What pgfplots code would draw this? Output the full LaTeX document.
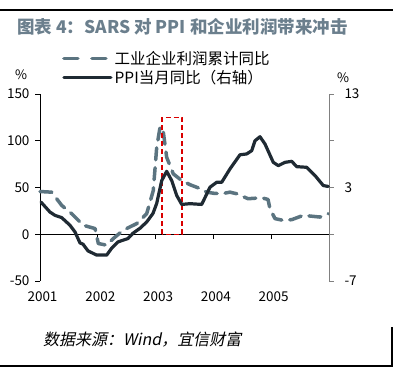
\documentclass[border=0pt]{standalone}
\usepackage{fontspec}
\setmainfont{Noto Sans CJK SC}
\newfontfamily\srcfont[FakeSlant=0.2]{Noto Sans CJK SC}
\usepackage{pgfplots}
\pgfplotsset{compat=1.18}
\definecolor{ttl}{HTML}{6B7F8D}
\definecolor{prof}{HTML}{5B7480}
\definecolor{ppi}{HTML}{1F2A33}
\definecolor{raxis}{HTML}{808080}
\begin{document}
\begin{tikzpicture}[x=1bp,y=1bp]
\useasboundingbox (0,0) rectangle (399,375);
\draw[line width=1.1bp,black] (0,365) -- (393,365);
\node[anchor=west,inner sep=0,text=ttl,font=\fontsize{17.5bp}{20bp}\selectfont\bfseries] at (17,348.5) {图表 4：SARS 对 PPI 和企业利润带来冲击};
\node[inner sep=0,font=\fontsize{13bp}{15bp}\selectfont] at (21,300) {\%};
\node[inner sep=0,font=\fontsize{13bp}{15bp}\selectfont] at (343,297) {\%};
\draw[line width=1.1bp,black] (0,9) -- (392,9) -- (392,48);
\node[anchor=west,inner sep=0,font=\fontsize{16bp}{18bp}\srcfont] at (43,35) {数据来源：Wind，宜信财富};
\begin{axis}[
  at={(40bp,94bp)}, anchor=south west,
  scale only axis, width=289bp, height=187bp,
  xmin=2001, xmax=2006, ymin=-50, ymax=150,
  axis y line*=left, axis x line*=middle,
  hide obscured x ticks=false, hide obscured y ticks=false,
  tick align=outside,
  major tick length=5bp,
  xtick={2001,2002,2003,2004,2005},
  xticklabels={2001,2002,2003,2004,2005},
  xticklabel style={anchor=north, yshift=-49bp, xshift=2.5bp},
  ytick={-50,0,50,100,150},
  yticklabels={-50,0,50,100,150},
  yticklabel style={xshift=-2bp},
  tick label style={font=\fontsize{13.5bp}{15bp}\selectfont},
  axis line style={line width=0.8bp,black},
  tick style={line width=0.8bp,black},
  clip=false,
]
\addplot[prof, line width=3.5bp, dash pattern=on 12bp off 8bp, line cap=round, line join=round] coordinates {
(2001.0,45.7) (2001.202,45.0) (2001.375,30.9) (2001.548,22.0) (2001.749,9.6) (2001.952,6.1)
(2002.009,-9.9) (2002.154,-11.7) (2002.268,-4.6) (2002.441,4.3) (2002.673,11.4) (2002.846,22.0)
(2002.960,46.8) (2003.019,92.9) (2003.076,114.1) (2003.123,114.1) (2003.192,82.2) (2003.306,64.6)
(2003.452,57.4) (2003.595,53) (2003.768,48.9) (2003.884,45.0) (2004.03,43.6) (2004.166,43.6)
(2004.287,45.0) (2004.403,43.3) (2004.599,38.0) (2004.836,39.0) (2004.945,37.2) (2004.979,27.3)
(2005.066,16.7) (2005.204,14.9) (2005.355,15.6) (2005.555,20.2) (2005.844,18.4) (2005.988,22.0)
};
\addplot[red!85!black, line width=1.1bp, dash pattern=on 5bp off 3bp] coordinates {
(2003.11,0) (2003.11,124.5) (2003.457,124.5) (2003.457,0) (2003.11,0)
};
\end{axis}
\begin{axis}[
  at={(40bp,94bp)}, anchor=south west,
  scale only axis, width=289bp, height=187bp,
  xmin=2001, xmax=2006, ymin=-7, ymax=13,
  axis y line*=right, axis x line=none,
  tick align=outside,
  major tick length=5bp,
  ytick={-7,-2,3,8,13},
  yticklabels={-7,,3,,13},
  yticklabel style={font=\fontsize{13.5bp}{15bp}\selectfont, xshift=7bp},
  y axis line style={line width=0.8bp,raxis},
  ytick style={line width=0.8bp,raxis},
  clip=false,
  legend style={at={(0.076,1.24)}, anchor=north west, draw=none, fill=none,
    font=\fontsize{15.5bp}{17bp}\selectfont, row sep=0bp, inner sep=0bp},
  legend cell align=left,
  legend image code/.code={\draw[#1] (0bp,0bp) -- (47bp,0bp);},
]
\addlegendimage{prof, line width=3.5bp, dash pattern=on 14bp off 14bp, line cap=round}
\addlegendentry{工业企业利润累计同比}
\addplot[ppi, line width=3.2bp, line join=round, line cap=round] coordinates {
(2001.017,1.44) (2001.173,0.37) (2001.26,0.02) (2001.375,-0.22) (2001.519,-1.04) (2001.606,-1.76)
(2001.692,-2.93) (2001.744,-3.06) (2001.830,-3.78) (2001.981,-4.23) (2002.154,-4.23) (2002.240,-3.49)
(2002.349,-2.82) (2002.522,-2.46) (2002.609,-1.89) (2002.730,-1.36) (2002.846,-0.69) (2002.955,0.23)
(2003.019,1.30) (2003.106,3.74) (2003.192,4.73) (2003.279,3.74) (2003.365,2.15) (2003.452,1.19)
(2003.595,1.27) (2003.798,1.19) (2003.941,3.03) (2004.057,3.56) (2004.144,3.56) (2004.287,4.99)
(2004.460,6.5) (2004.576,6.59) (2004.663,6.94) (2004.720,8.0) (2004.806,8.43) (2004.893,7.65)
(2005.036,5.69) (2005.123,5.34) (2005.239,5.69) (2005.355,5.80) (2005.441,5.23) (2005.614,5.16)
(2005.758,4.28) (2005.901,3.21) (2005.988,3.11)
};
\addlegendentry{PPI当月同比（右轴）}
\end{axis}
\end{tikzpicture}
\end{document}
